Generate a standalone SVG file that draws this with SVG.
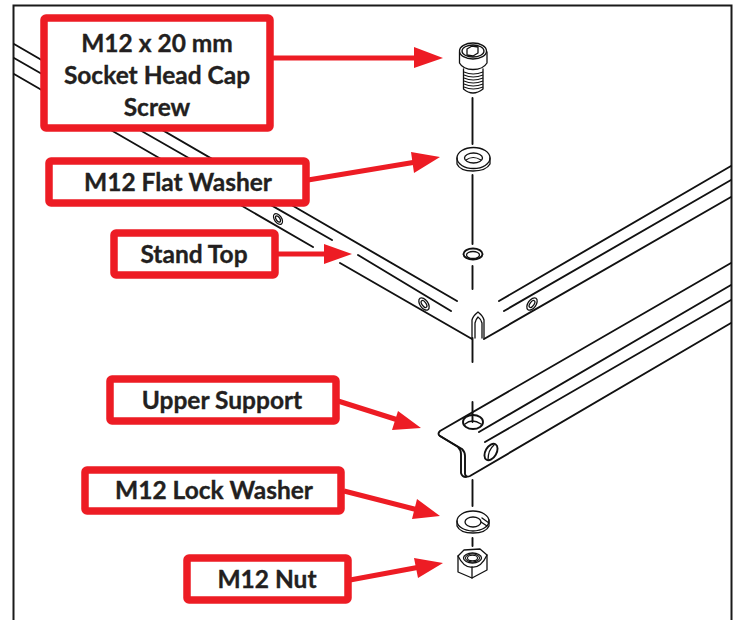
<svg xmlns="http://www.w3.org/2000/svg" width="736" height="620" viewBox="0 0 736 620">
<style>
.l{fill:none;stroke:#111;stroke-width:1.9;stroke-linejoin:round;stroke-linecap:round}
.m{fill:none;stroke:#111;stroke-width:1.3;stroke-linejoin:round;stroke-linecap:round}
.t{fill:none;stroke:#111;stroke-width:1.1}
.b{fill:#fff;stroke:#ed1c24;stroke-width:7.5}
.a{fill:none;stroke:#ed1c24;stroke-width:5}
.h{fill:#ed1c24}
text{font-family:Lato,"Liberation Sans",sans-serif;font-weight:700;font-size:24.500px;fill:#231f20;stroke:#231f20;stroke-width:.35;text-anchor:middle}
</style>
<rect width="736" height="620" fill="#fff"/>
<path d="M13.500 620V5.500H731.500V620" fill="none" stroke="#1a1a1a" stroke-width="2"/>
<g id="parts">
<g id="stand-top">
<path class="l" d="M14 44L457 301M14 58L332 240M358 255L451 311M14 74L313 247M340 263L472 339"/>
<path class="l" d="M499 301L731 166M504 311L731 180M484 339L731 197"/>
<path class="m" d="M472 338V320Q473 316 478 312Q483 316 484 320V338M475 338V323Q476 319 478 317Q481 319 482 323V338"/>
<ellipse class="m" cx="278" cy="219" rx="3.500" ry="6" transform="rotate(-35 278 219)"/>
<ellipse class="m" cx="278" cy="219" rx="1.800" ry="3.500" transform="rotate(-35 278 219)"/>
<ellipse class="m" cx="424" cy="304" rx="4" ry="7" transform="rotate(-35 424 304)"/>
<ellipse class="m" cx="424" cy="304" rx="2" ry="4" transform="rotate(-35 424 304)"/>
<ellipse class="m" cx="532" cy="304" rx="4" ry="7" transform="rotate(35 532 304)"/>
<ellipse class="m" cx="532" cy="304" rx="2" ry="4" transform="rotate(35 532 304)"/>
<ellipse class="l" cx="473" cy="254" rx="9.500" ry="5.500"/>
<ellipse class="m" cx="473" cy="255" rx="6.500" ry="3.500"/>
</g>
<g id="upper-support">
<path class="l" d="M731 263L440 431Q437 434 440 436L462 449Q465 452 465 456V474Q466 478 470 476L731 323"/>
<path class="l" d="M440 436L458 447Q461 450 461 454V473Q462 477 466 477"/>
<path class="l" d="M479 432L731 285M485 442L731 300"/>
<ellipse class="l" cx="473" cy="422" rx="10" ry="7"/>
<path class="m" d="M465 424Q472 418 481 424"/>
<ellipse class="l" cx="491" cy="452" rx="5.500" ry="9" transform="rotate(30 491 452)"/>
<path class="m" d="M494 445Q488 450 488 460"/>
</g>
<g id="axis">
<path class="l" d="M472.500 98V144M472.500 175V244M472.500 266V289M472.500 338V362M472.500 402V422M472.500 480V506M472.500 538V546"/>
</g>
<g id="screw">
<path class="m" d="M459.500 52V63Q463 69.500 473 69.500Q483 69.500 487 63V52"/>
<ellipse class="m" cx="473" cy="51" rx="13.500" ry="8"/>
<ellipse class="m" cx="473" cy="51" rx="11" ry="6"/>
<path class="m" d="M467 49L472 46L478 47V53L473 56L467 55Z"/>
<path class="m" d="M463.500 69V89Q468 93 473 93Q478 93 483 89V69"/>
<path class="t" d="M464 72Q473 76 483 72M464 75Q473 79 483 75M464 78Q473 82 483 78M464 81Q473 85 483 81M464 84Q473 88 483 84M464 87Q473 91 483 87"/>
</g>
<g id="flat-washer">
<path class="m" d="M457 158V164Q460 171 473 171Q486 171 490 164V158"/>
<ellipse class="m" cx="473.500" cy="158" rx="16.500" ry="10.500"/>
<ellipse class="m" cx="473.500" cy="158" rx="9" ry="5"/>
<path class="t" d="M466 160Q473 155 481 160"/>
</g>
<g id="lock-washer">
<path class="m" d="M457 521V526Q460 533 473 533Q486 533 489 526V520"/>
<ellipse class="m" cx="473" cy="521" rx="16" ry="10"/>
<ellipse class="m" cx="473" cy="522" rx="8" ry="5"/>
<path class="m" d="M482 518L489 523M481 522L487 526"/>
</g>
<g id="nut">
<path class="m" d="M458 556V572L472 578L487 570V555L480 549L464 550Z"/>
<path class="m" d="M458 556Q464 568 472 567Q481 568 487 555M472 567V578"/>
<ellipse class="m" cx="472.500" cy="558" rx="9" ry="5"/>
<ellipse class="t" cx="472.500" cy="558" rx="7" ry="4"/>
<ellipse class="t" cx="472.500" cy="558" rx="5" ry="2.800"/>
</g>
</g>
<g id="connectors">
<path class="a" d="M270 58H418M308 180L416 162M278 254H328M338 401L398 420M344 491L418 510M350 580L420 567"/>
<path class="h" d="M443 58L414 47V68ZM440 157L411 152L414 173ZM352 254L324 244V264ZM421 428L398 411L392 430ZM440 516L417 499L412 519ZM443 563L414 558L418 578Z"/>
</g>
<g id="n1"><rect class="b" x="44" y="18" width="226" height="110" rx="2"/><text x="157" y="52">M12 x 20 mm</text><text x="157" y="84">Socket Head Cap</text><text x="157" y="116">Screw</text></g>
<g id="n2"><rect class="b" x="49" y="161" width="257" height="42" rx="2"/><text x="178" y="191">M12 Flat Washer</text></g>
<g id="n3"><rect class="b" x="114" y="233" width="161" height="42" rx="2"/><text x="194" y="263">Stand Top</text></g>
<g id="n4"><rect class="b" x="110" y="379" width="226" height="42" rx="2"/><text x="222" y="409">Upper Support</text></g>
<g id="n5"><rect class="b" x="85" y="470" width="256" height="41" rx="2"/><text x="214" y="499">M12 Lock Washer</text></g>
<g id="n6"><rect class="b" x="187" y="558" width="161" height="42" rx="2"/><text x="267" y="588">M12 Nut</text></g>
</svg>
